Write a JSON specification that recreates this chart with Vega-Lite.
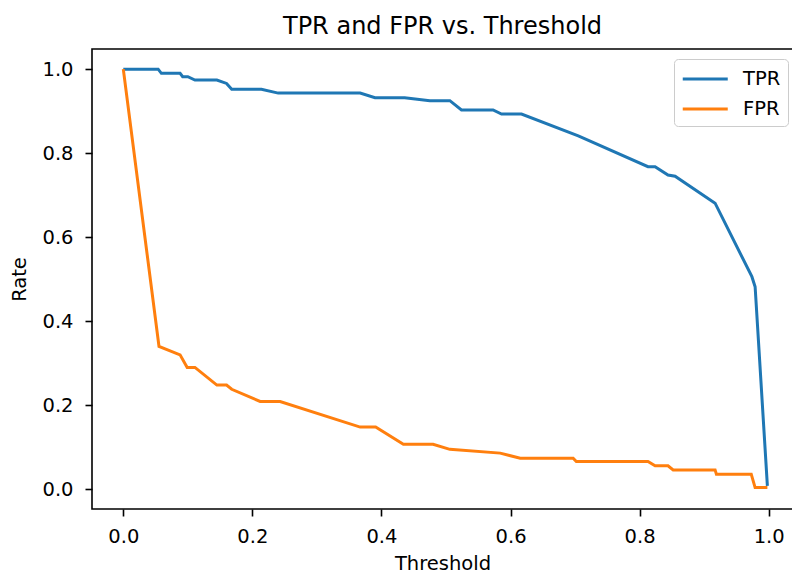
{
  "$schema": "https://vega.github.io/schema/vega-lite/v6.json",
  "width": 701,
  "height": 460,
  "autosize": {"type": "none"},
  "padding": {"left": 92, "top": 49, "right": 0, "bottom": 66},
  "background": "white",
  "config": {
    "font": "DejaVu Sans",
    "view": {"stroke": "black", "strokeWidth": 1.6},
    "axis": {
      "grid": false,
      "domain": false,
      "tickColor": "black",
      "tickWidth": 1.6,
      "tickSize": 7,
      "labelFont": "DejaVu Sans",
      "labelFontSize": 19.5,
      "labelColor": "black",
      "titleFont": "DejaVu Sans",
      "titleFontSize": 19.5,
      "titleFontWeight": "normal",
      "titleColor": "black"
    }
  },
  "title": {
    "text": "TPR and FPR vs. Threshold",
    "fontSize": 24,
    "fontWeight": "normal",
    "font": "DejaVu Sans",
    "color": "black",
    "baseline": "alphabetic",
    "offset": 15,
    "dy": 24
  },
  "data": {
    "values": [
      {"threshold": 0.0, "rate": 1.0, "series": "TPR"},
      {"threshold": 0.054, "rate": 1.0, "series": "TPR"},
      {"threshold": 0.059, "rate": 0.99, "series": "TPR"},
      {"threshold": 0.088, "rate": 0.99, "series": "TPR"},
      {"threshold": 0.092, "rate": 0.982, "series": "TPR"},
      {"threshold": 0.1, "rate": 0.982, "series": "TPR"},
      {"threshold": 0.111, "rate": 0.974, "series": "TPR"},
      {"threshold": 0.145, "rate": 0.974, "series": "TPR"},
      {"threshold": 0.16, "rate": 0.966, "series": "TPR"},
      {"threshold": 0.168, "rate": 0.952, "series": "TPR"},
      {"threshold": 0.214, "rate": 0.952, "series": "TPR"},
      {"threshold": 0.24, "rate": 0.943, "series": "TPR"},
      {"threshold": 0.367, "rate": 0.943, "series": "TPR"},
      {"threshold": 0.39, "rate": 0.932, "series": "TPR"},
      {"threshold": 0.436, "rate": 0.932, "series": "TPR"},
      {"threshold": 0.475, "rate": 0.925, "series": "TPR"},
      {"threshold": 0.506, "rate": 0.925, "series": "TPR"},
      {"threshold": 0.524, "rate": 0.903, "series": "TPR"},
      {"threshold": 0.573, "rate": 0.903, "series": "TPR"},
      {"threshold": 0.586, "rate": 0.893, "series": "TPR"},
      {"threshold": 0.617, "rate": 0.893, "series": "TPR"},
      {"threshold": 0.705, "rate": 0.841, "series": "TPR"},
      {"threshold": 0.813, "rate": 0.768, "series": "TPR"},
      {"threshold": 0.824, "rate": 0.768, "series": "TPR"},
      {"threshold": 0.844, "rate": 0.748, "series": "TPR"},
      {"threshold": 0.855, "rate": 0.745, "series": "TPR"},
      {"threshold": 0.917, "rate": 0.681, "series": "TPR"},
      {"threshold": 0.974, "rate": 0.506, "series": "TPR"},
      {"threshold": 0.979, "rate": 0.482, "series": "TPR"},
      {"threshold": 0.998, "rate": 0.008, "series": "TPR"},
      {"threshold": 0.0, "rate": 1.0, "series": "FPR"},
      {"threshold": 0.0553, "rate": 0.34, "series": "FPR"},
      {"threshold": 0.088, "rate": 0.32, "series": "FPR"},
      {"threshold": 0.099, "rate": 0.29, "series": "FPR"},
      {"threshold": 0.111, "rate": 0.29, "series": "FPR"},
      {"threshold": 0.145, "rate": 0.248, "series": "FPR"},
      {"threshold": 0.16, "rate": 0.248, "series": "FPR"},
      {"threshold": 0.168, "rate": 0.238, "series": "FPR"},
      {"threshold": 0.212, "rate": 0.209, "series": "FPR"},
      {"threshold": 0.243, "rate": 0.209, "series": "FPR"},
      {"threshold": 0.367, "rate": 0.148, "series": "FPR"},
      {"threshold": 0.391, "rate": 0.148, "series": "FPR"},
      {"threshold": 0.434, "rate": 0.107, "series": "FPR"},
      {"threshold": 0.48, "rate": 0.107, "series": "FPR"},
      {"threshold": 0.506, "rate": 0.095, "series": "FPR"},
      {"threshold": 0.584, "rate": 0.086, "series": "FPR"},
      {"threshold": 0.615, "rate": 0.074, "series": "FPR"},
      {"threshold": 0.697, "rate": 0.074, "series": "FPR"},
      {"threshold": 0.702, "rate": 0.066, "series": "FPR"},
      {"threshold": 0.813, "rate": 0.066, "series": "FPR"},
      {"threshold": 0.824, "rate": 0.056, "series": "FPR"},
      {"threshold": 0.844, "rate": 0.056, "series": "FPR"},
      {"threshold": 0.852, "rate": 0.046, "series": "FPR"},
      {"threshold": 0.917, "rate": 0.046, "series": "FPR"},
      {"threshold": 0.919, "rate": 0.036, "series": "FPR"},
      {"threshold": 0.973, "rate": 0.036, "series": "FPR"},
      {"threshold": 0.979, "rate": 0.004, "series": "FPR"},
      {"threshold": 0.998, "rate": 0.004, "series": "FPR"}
    ]
  },
  "mark": {"type": "line", "strokeWidth": 3, "clip": true},
  "encoding": {
    "x": {
      "field": "threshold",
      "type": "quantitative",
      "scale": {"domain": [-0.0485, 1.0377], "nice": false, "zero": false},
      "axis": {
        "title": "Threshold",
        "values": [0, 0.2, 0.4, 0.6, 0.8, 1.0],
        "format": ".1f",
        "labelPadding": 11,
        "titlePadding": 9
      }
    },
    "y": {
      "field": "rate",
      "type": "quantitative",
      "scale": {"domain": [-0.047, 1.048], "nice": false, "zero": false},
      "axis": {
        "title": "Rate",
        "values": [0, 0.2, 0.4, 0.6, 0.8, 1.0],
        "format": ".1f",
        "labelPadding": 12,
        "titlePadding": 12
      }
    },
    "color": {
      "field": "series",
      "type": "nominal",
      "scale": {"domain": ["TPR", "FPR"], "range": ["#1f77b4", "#ff7f0e"]},
      "legend": {
        "title": null,
        "orient": "none",
        "legendX": 582,
        "legendY": 10,
        "strokeColor": "#cccccc",
        "cornerRadius": 4,
        "fillColor": "white",
        "padding": 7,
        "symbolType": "M-1,0H3",
        "symbolSize": 506.25,
        "symbolStrokeWidth": 3,
        "labelFont": "DejaVu Sans",
        "labelFontSize": 19.5,
        "labelColor": "black",
        "rowPadding": 7,
        "labelOffset": 36
      }
    }
  }
}
